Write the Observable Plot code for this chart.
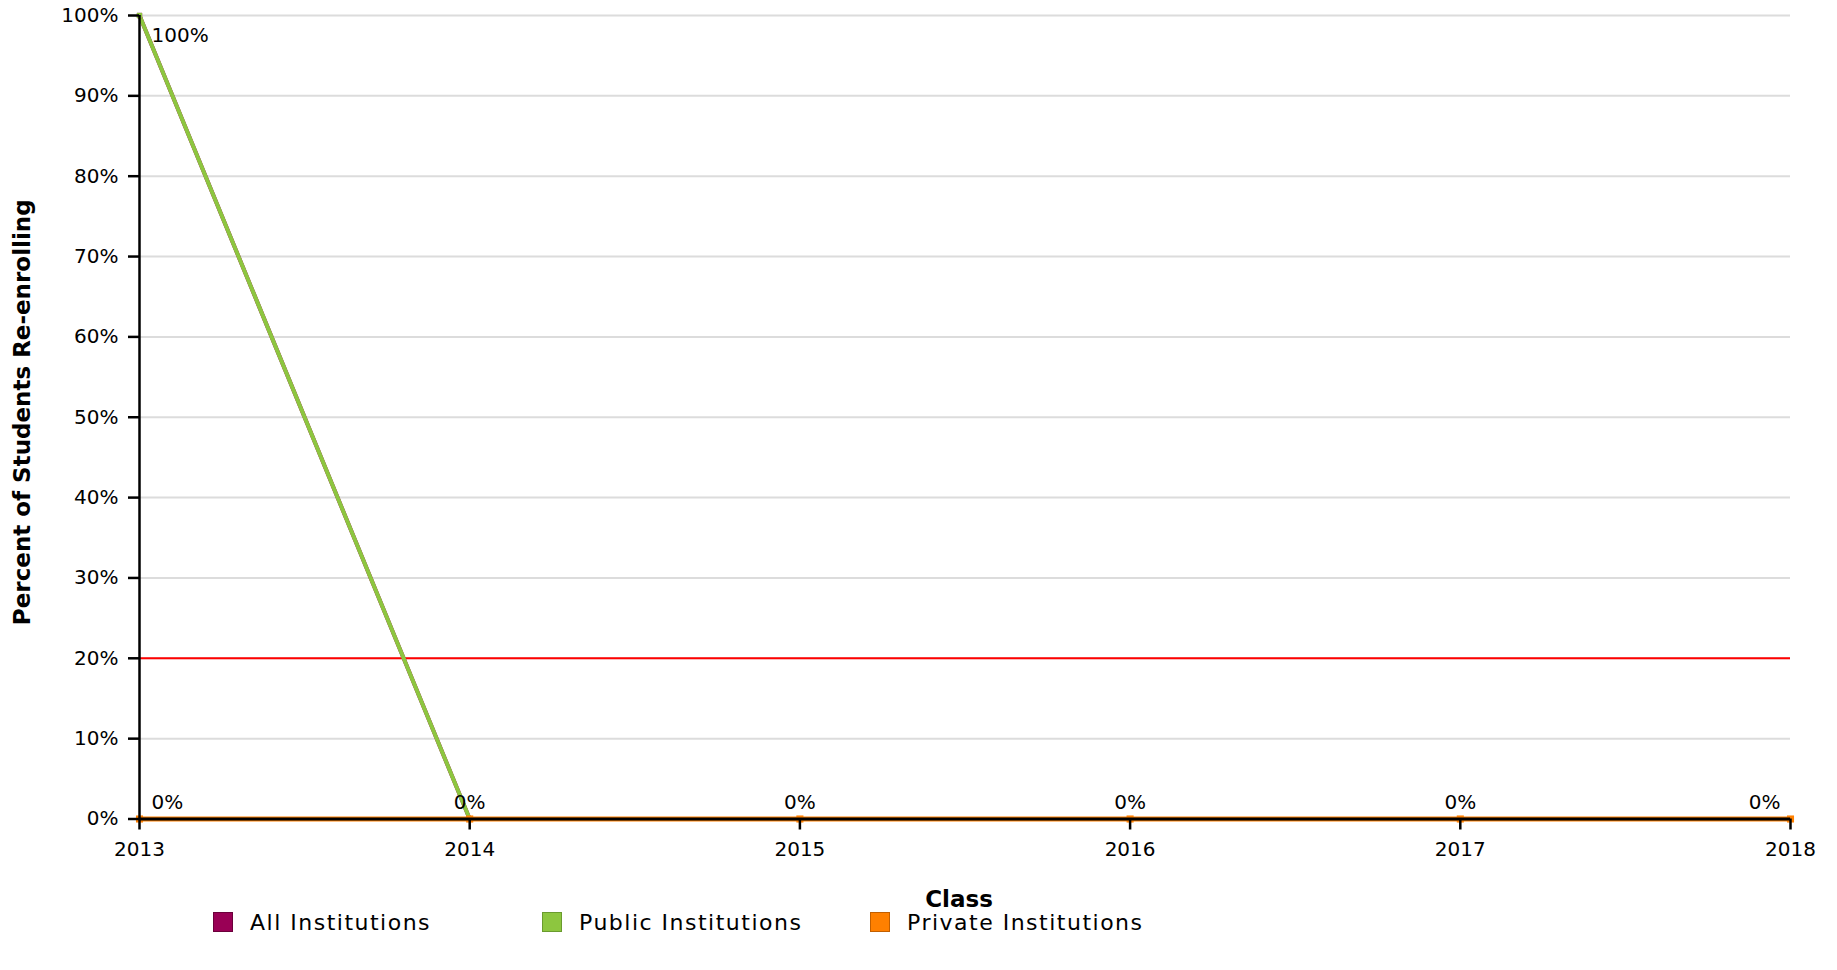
<!DOCTYPE html>
<html><head><meta charset="utf-8">
<script src="https://cdn.jsdelivr.net/npm/d3@7"></script>
<script src="https://cdn.jsdelivr.net/npm/@observablehq/plot@0.6"></script>
<style>
body{margin:0;background:#fff;font-family:"DejaVu Sans",sans-serif;}
#chart{position:relative;width:1837px;height:970px;overflow:hidden;}
#chart svg{display:block;}
.legend{position:absolute;top:905px;left:0;width:1837px;height:34px;}
.item{position:absolute;top:0;height:34px;display:flex;align-items:center;font-size:22px;letter-spacing:1.5px;color:#000;white-space:nowrap;}
.sw{box-sizing:border-box;width:20px;height:20px;border:1.5px solid;margin-right:17px;}
</style></head><body><div id="chart"></div>
<script>
const years = [2013, 2014, 2015, 2016, 2017, 2018];
const allInstitutions = [100, 0, 0, 0, 0, 0];
const publicInstitutions = [100, 0, 0, 0, 0, 0];
const privateInstitutions = [0, 0, 0, 0, 0, 0];
const benchmark = [20];
const seriesNames = ["All Institutions", "Public Institutions", "Private Institutions"];
const seriesColors = ["#990055", "#8dc63f", "#ff8000"];
const seriesBorders = ["#6b003b", "#6a9b2e", "#c25f00"];
const yTicks = [0, 10, 20, 30, 40, 50, 60, 70, 80, 90, 100];
const xLabel = "Class";
const yLabel = "Percent of Students Re-enrolling";

const seriesValues = [allInstitutions, publicInstitutions, privateInstitutions];
const rows = [];
seriesValues.forEach((vals, si) => vals.forEach((v, i) => {
  if (v != null) rows.push({series: seriesNames[si], year: years[i], value: v, idx: i});
}));
const bySeries = s => rows.filter(r => r.series === s);

// value labels: private series at every class, public at its first class
const privLabels = bySeries(seriesNames[2]);
const pubLabels = bySeries(seriesNames[1]).filter(r => r.idx === 0);
const pct = d => d.value + "%";
const last = years.length - 1;

const lineMarks = seriesNames.map((s, i) =>
  Plot.line(bySeries(s), {x: "year", y: "value", stroke: seriesColors[i], strokeWidth: i === 2 ? 5 : 4})
);
const dotMarks = seriesNames.map((s, i) =>
  Plot.dot(bySeries(s), {x: "year", y: "value", symbol: "square", r: i === 2 ? 4 : 3, fill: seriesColors[i], stroke: "none"})
);

const plot = Plot.plot({
  width: 1837,
  height: 905,
  marginLeft: 139,
  marginRight: 47,
  marginTop: 15,
  marginBottom: 86.5,
  style: {fontFamily: "DejaVu Sans", fontSize: "20px", background: "white", overflow: "visible", color: "#000"},
  x: {type: "linear", domain: [2013, 2018]},
  y: {type: "linear", domain: [0, 100]},
  marks: [
    Plot.ruleY(yTicks, {stroke: "#dcdcdc", strokeWidth: 2}),
    Plot.ruleY(benchmark, {stroke: "#ff0000", strokeWidth: 2}),
    ...lineMarks,
    ...dotMarks,
    Plot.ruleX([2013], {stroke: "#000", strokeWidth: 2.5}),
    Plot.ruleY([0], {stroke: "#000", strokeWidth: 3}),
    Plot.axisX({ticks: years, tickFormat: "d", tickSize: 11, tickPadding: 12, strokeWidth: 2.5, label: null, fill: "#000"}),
    Plot.axisY({ticks: yTicks, tickFormat: d => d + "%", tickSize: 11, tickPadding: 10, strokeWidth: 2.5, label: null, fill: "#000"}),
    Plot.text(privLabels.filter(r => r.idx === 0), {x: "year", y: "value", text: pct, textAnchor: "start", dx: 12, dy: -16, fill: "#000"}),
    Plot.text(privLabels.filter(r => r.idx > 0 && r.idx < last), {x: "year", y: "value", text: pct, textAnchor: "middle", dy: -16, fill: "#000"}),
    Plot.text(privLabels.filter(r => r.idx === last), {x: "year", y: "value", text: pct, textAnchor: "end", dx: -10, dy: -16, fill: "#000"}),
    Plot.text(pubLabels, {x: "year", y: "value", text: pct, textAnchor: "start", dx: 12, dy: 20, fill: "#000"}),
    Plot.text([xLabel], {frameAnchor: "bottom", textAnchor: "middle", lineAnchor: "middle", dy: 81, dx: -6, fontWeight: "bold", fontSize: 23, fill: "#000"}),
    Plot.text([yLabel], {frameAnchor: "left", textAnchor: "middle", lineAnchor: "middle", dx: -117, dy: -5, rotate: -90, fontWeight: "bold", fontSize: 23, fill: "#000"})
  ]
});
const chart = document.getElementById("chart");
chart.appendChild(plot);

const legend = document.createElement("div");
legend.className = "legend";
const legendX = [213, 542, 870];
seriesNames.forEach((s, i) => {
  const it = document.createElement("div");
  it.className = "item";
  it.style.left = legendX[i] + "px";
  const sw = document.createElement("span");
  sw.className = "sw";
  sw.style.background = seriesColors[i];
  sw.style.borderColor = seriesBorders[i];
  const t = document.createElement("span");
  t.textContent = s;
  it.appendChild(sw);
  it.appendChild(t);
  legend.appendChild(it);
});
chart.appendChild(legend);
</script>
</body></html>
